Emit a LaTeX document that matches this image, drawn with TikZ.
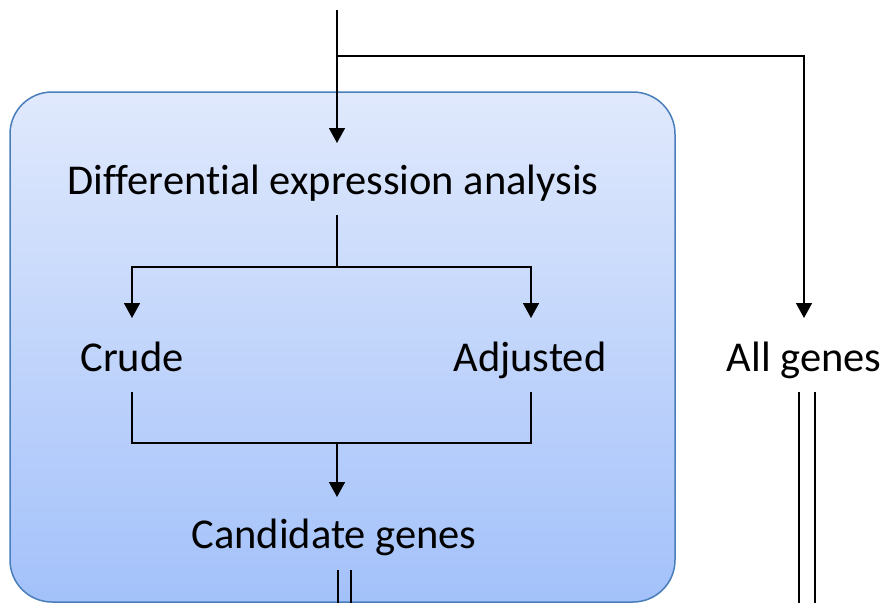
\documentclass[tikz,border=0pt]{standalone}
\usepackage{fontspec}
\setmainfont[Ligatures=NoCommon]{Carlito}
\usetikzlibrary{arrows.meta}
\definecolor{topblue}{RGB}{224,233,252}
\definecolor{botblue}{RGB}{163,193,250}
\definecolor{edgeblue}{RGB}{74,126,187}
\begin{document}
\begin{tikzpicture}[x=1pt,y=-1pt,
  lbl/.style={font=\fontsize{42.5}{50}\selectfont, inner sep=0pt, anchor=base},
  conn/.style={line width=1.6pt, draw=black},
  arr/.style={conn, -{Triangle[length=15pt,width=16pt]}}]
\useasboundingbox (0,0) rectangle (883,603);
\draw[edgeblue, line width=1.5pt, rounded corners=42pt, top color=topblue, bottom color=botblue]
  (10,92) rectangle (675,602);
\node[lbl] (dea) at (333,194) {Differential expression analysis};
\node[lbl] (crude) at (132,371) {Crude};
\node[lbl] (adj) at (530,371) {Adjusted};
\node[lbl] (all) at (804,371) {All genes};
\node[lbl] (cand) at (334,548) {Candidate genes};
\coordinate (top) at (337,10);
\coordinate (split) at (337,56);
\coordinate (deaTip) at (337,143);
\coordinate (allTip) at (804,318);
\coordinate (deaB) at (337,215);
\coordinate (fork) at (337,267);
\coordinate (cTip) at (132,318);
\coordinate (aTip) at (531,318);
\coordinate (cB) at (132,392);
\coordinate (aB) at (531,392);
\coordinate (join) at (337,443);
\coordinate (candTip) at (337,497);
\draw[arr] (top) -- (deaTip);
\draw[arr] (split) -| (allTip);
\draw[conn] (deaB) -- (fork);
\draw[arr] (fork) -| (cTip);
\draw[arr] (fork) -| (aTip);
\draw[conn] (cB) |- (join) -| (aB);
\draw[arr] (join) -- (candTip);
\draw[conn] (338,570) -- (338,603);
\draw[conn] (351,570) -- (351,603);
\draw[conn] (799,392) -- (799,603);
\draw[conn] (815,392) -- (815,603);
\end{tikzpicture}
\end{document}
